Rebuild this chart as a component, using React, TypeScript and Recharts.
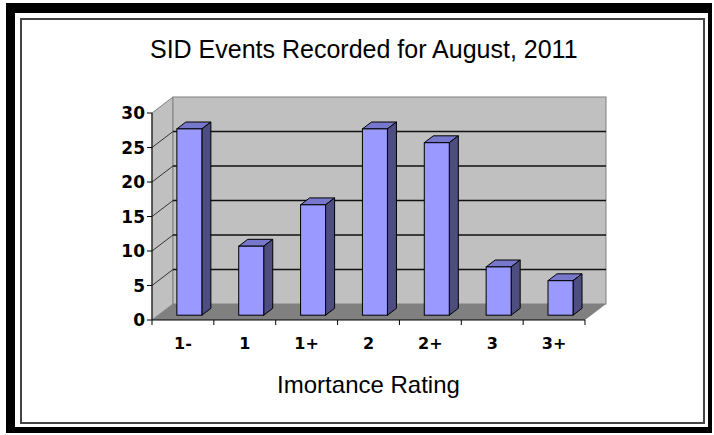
import React from "react";
import {
  BarChart,
  Bar,
  XAxis,
  YAxis,
  ReferenceArea,
  ReferenceLine,
} from "recharts";

const categories = ["1-", "1", "1+", "2", "2+", "3", "3+"];
const eventCounts = [27, 10, 16, 27, 25, 7, 5];
const valueTicks = [0, 5, 10, 15, 20, 25, 30];
const gridValues = [5, 10, 15, 20, 25];

const data = categories.map((rating, i) => ({ rating, events: eventCounts[i] }));

const FONT = '"Liberation Sans", Arial, sans-serif';
const TICK_FONT = '"DejaVu Sans", sans-serif';
// depth of the fake 3d box (floor / walls)
const DX = 21;
const DY = -16;
// bars sit a bit into the box
const BAR_SHIFT = 0.3;
const BAR_DEPTH = 0.43;
const X_TICK_GAP = 18;

const WALL = "#c0c0c0";
const FLOOR = "#808080";

function Walls(props: any) {
  const { x, y, width: w, height: h } = props;
  return (
    <g>
      <polygon
        points={`${x},${y} ${x + DX},${y + DY} ${x + DX},${y + h + DY} ${x},${y + h}`}
        fill={WALL}
        stroke="#808080"
      />
      <rect x={x + DX} y={y + DY} width={w} height={h} fill={WALL} stroke="#808080" />
      <polygon
        points={`${x},${y + h} ${x + DX},${y + h + DY} ${x + w + DX},${y + h + DY} ${x + w},${y + h}`}
        fill={FLOOR}
      />
    </g>
  );
}

function GridLine(props: any) {
  const { x1, y1, x2 } = props;
  return (
    <g>
      <line x1={x1} y1={y1} x2={x1 + DX} y2={y1 + DY} stroke="#333" strokeWidth={1} />
      <line x1={x1 + DX} y1={y1 + DY} x2={x2 + DX} y2={y1 + DY} stroke="#111" strokeWidth={1.5} />
    </g>
  );
}

function Bar3D(props: any) {
  const { x, y, width: w, height: h } = props;
  if (!h) return null;
  const fx = x + DX * BAR_SHIFT;
  const fy = y + DY * BAR_SHIFT;
  const ddx = DX * BAR_DEPTH;
  const ddy = DY * BAR_DEPTH;
  return (
    <g stroke="#000" strokeWidth={1}>
      <polygon
        points={`${fx},${fy} ${fx + ddx},${fy + ddy} ${fx + w + ddx},${fy + ddy} ${fx + w},${fy}`}
        fill="#7777cc"
      />
      <polygon
        points={`${fx + w},${fy} ${fx + w + ddx},${fy + ddy} ${fx + w + ddx},${fy + h + ddy} ${fx + w},${fy + h}`}
        fill="#4d4d80"
      />
      <rect x={fx} y={fy} width={w} height={h} fill="#9999ff" />
    </g>
  );
}

function CategoryTick(props: any) {
  const { x, y, payload, index } = props;
  const half = payload.offset ?? 0;
  const axisY = y - X_TICK_GAP;
  return (
    <g>
      {index === 0 && (
        <line x1={x - half} y1={axisY} x2={x - half} y2={axisY + 5} stroke="#000" />
      )}
      <line x1={x + half} y1={axisY} x2={x + half} y2={axisY + 5} stroke="#000" />
      <text
        x={x}
        y={y}
        dy="0.71em"
        textAnchor="middle"
        fill="#000"
        fontSize={16}
        fontWeight="bold"
        fontFamily={TICK_FONT}
      >
        {payload.value}
      </text>
    </g>
  );
}

export default function App() {
  return (
    <div
      style={{
        position: "absolute",
        left: 0,
        top: 0,
        width: 714,
        height: 435,
        background: "#fff",
        fontFamily: FONT,
        overflow: "hidden",
      }}
    >
      <div
        style={{
          position: "absolute",
          left: 6,
          top: 3,
          width: 706,
          height: 430,
          boxSizing: "border-box",
          borderStyle: "solid",
          borderColor: "#000",
          borderWidth: "10px 4px 6px 9px",
        }}
      />
      <div
        style={{
          position: "absolute",
          left: 20,
          top: 18,
          width: 685,
          height: 406,
          boxSizing: "border-box",
          border: "2px solid #444",
        }}
      />
      <div
        style={{
          position: "absolute",
          left: 150,
          top: 37,
          fontSize: 25,
          lineHeight: "25px",
          whiteSpace: "nowrap",
          color: "#000",
        }}
      >
        SID Events Recorded for August, 2011
      </div>
      <div
        style={{
          position: "absolute",
          left: 152,
          width: 433,
          top: 373,
          fontSize: 24,
          lineHeight: "24px",
          textAlign: "center",
          whiteSpace: "nowrap",
          color: "#000",
        }}
      >
        Imortance Rating
      </div>
      <div style={{ position: "absolute", left: 0, top: 0 }}>
        <BarChart
          width={714}
          height={435}
          data={data}
          margin={{ top: 113, right: 129, bottom: 85, left: 92 }}
          barCategoryGap="30%"
        >
          <XAxis
            dataKey="rating"
            height={30}
            stroke="#000"
            tickLine={false}
            tickSize={0}
            tickMargin={X_TICK_GAP}
            tick={<CategoryTick />}
            interval={0}
          />
          <YAxis
            width={60}
            domain={[0, 30]}
            ticks={valueTicks}
            stroke="#000"
            tickSize={5}
            tickMargin={2}
            tick={{ fill: "#000", fontSize: 17, fontWeight: "bold", fontFamily: TICK_FONT }}
            interval={0}
          />
          <ReferenceArea y1={0} y2={30} shape={<Walls />} fillOpacity={1} zIndex={-60} />
          {gridValues.map((v) => (
            <ReferenceLine key={v} y={v} shape={<GridLine />} zIndex={-50} />
          ))}
          <Bar dataKey="events" shape={<Bar3D />} isAnimationActive={false} />
        </BarChart>
      </div>
    </div>
  );
}
